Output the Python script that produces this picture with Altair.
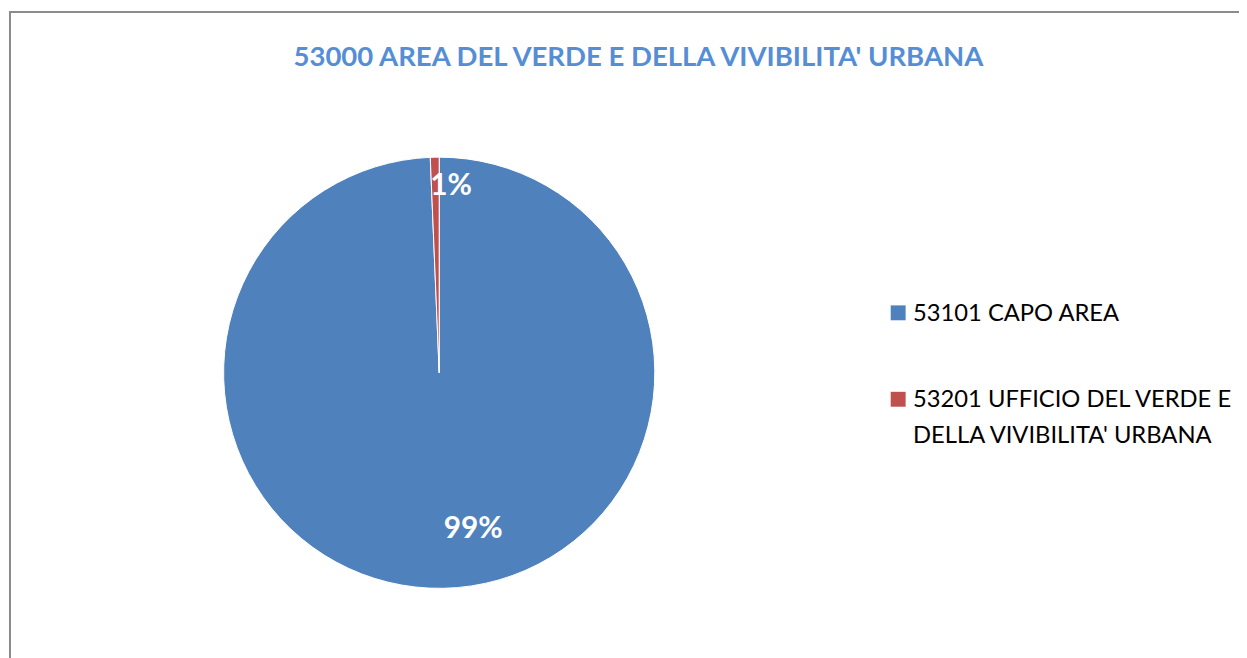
import altair as alt
import pandas as pd

# Data
categories = ["53101 CAPO AREA", "53201 UFFICIO DEL VERDE E\nDELLA VIVIBILITA' URBANA"]
shares = [99.34, 0.66]
labels = ["99%", "1%"]
colors = ["#4F81BD", "#C0504D"]

title_text = "53000 AREA DEL VERDE E DELLA VIVIBILITA'  URBANA"

df = pd.DataFrame({"category": categories, "share": shares, "label": labels})

W, H = 1239, 650
CX, CY, R = 434, 365, 217
FONT = "Lato"

color_scale = alt.Scale(domain=categories, range=colors)

base = alt.Chart(df)

border = base.mark_rect(fillOpacity=0, stroke="#8c8c8c", strokeWidth=2).encode(
    x=alt.value(2), x2=alt.value(W + 200), y=alt.value(2), y2=alt.value(H + 200)
)

pie = base.mark_arc(outerRadius=R, stroke="white", strokeWidth=1).encode(
    theta=alt.Theta("share:Q", stack=True),
    color=alt.Color(
        "category:N",
        scale=color_scale,
        sort=categories,
        legend=alt.Legend(
            title=None,
            orient="none",
            legendX=884,
            legendY=301,
            symbolType="M-1,-2.1L1,-2.1L1,-0.1L-1,-0.1Z",
            symbolSize=225,
            symbolStrokeWidth=0,
            labelFont=FONT,
            labelFontSize=23.9,
            labelColor="#000000",
            labelBaseline="alphabetic",
            labelOffset=3,
            labelLimit=600,
            rowPadding=62,
            padding=0,
            labelExpr="split(datum.label, '\\n')",
        ),
    ),
    order=alt.Order("order:Q"),
    x=alt.value(CX),
    y=alt.value(CY),
).transform_calculate(order="datum.share > 50 ? 0 : 1")

text_common = dict(font=FONT, fontSize=30, fontWeight="bold", color="white", align="center", baseline="middle")

big_label = base.transform_filter("datum.share > 50").mark_text(dx=31, **text_common).encode(
    theta=alt.Theta("share:Q", stack=True),
    text="label:N",
    radius=alt.value(157),
    x=alt.value(CX),
    y=alt.value(CY),
)

small_label = base.mark_text(dx=8, dy=2, **text_common).encode(
    theta=alt.Theta("share:Q", stack=True),
    text="label:N",
    radius=alt.value(190),
    x=alt.value(CX),
    y=alt.value(CY),
    opacity=alt.condition("datum.share < 50", alt.value(1), alt.value(0)),
)

chart = alt.layer(border, pie, big_label, small_label).properties(
    width=W,
    height=H,
    padding=0,
    autosize=alt.AutoSizeParams(type="none"),
    title=alt.TitleParams(
        text=title_text,
        font=FONT,
        fontSize=27.7,
        fontWeight="bold",
        color="#558ED5",
        anchor="middle",
        frame="group",
        baseline="alphabetic",
        offset=0,
        dx=15,
        dy=84,
    ),
).configure(style={"guide-label": {"lineHeight": 36}}).configure_view(strokeOpacity=0)

chart.save("out.html", embed_options={"renderer": "svg", "actions": False})
